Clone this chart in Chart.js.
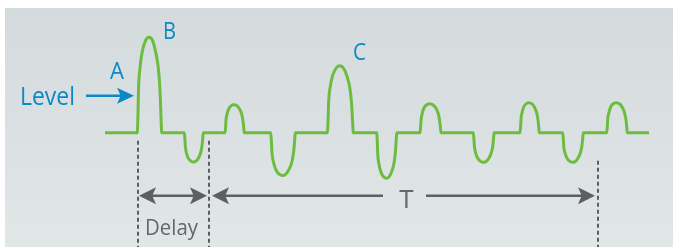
<!DOCTYPE html>
<html>
<head>
<meta charset="utf-8">
<script src="https://cdn.jsdelivr.net/npm/chart.js@4.4.1/dist/chart.umd.min.js"></script>
<style>
    html, body { margin: 0; padding: 0; background: #ffffff; }
    #wrap { position: relative; width: 673px; height: 247px; }
</style>
</head>
<body>
<div id="wrap"><canvas id="chart"></canvas></div>
<script>
// Signal trace: time (x) and level relative to the baseline (y)
const waveTime = [
    105,
    137.3, 138.0, 138.5, 140.0, 142.2, 145.4, 149.0, 152.7, 155.6, 158.3, 160.0, 160.9, 161.7,
    184.3, 184.9, 185.3, 186.4, 188.1, 190.6, 193.5, 196.3, 198.6, 200.6, 202.0, 202.7, 203.3,
    225.0, 225.6, 226.0, 227.1, 228.7, 231.0, 233.8, 237.2, 239.5, 241.6, 242.9, 243.7, 244.3,
    270.7, 271.4, 271.9, 273.4, 275.6, 278.8, 283.0, 286.2, 289.1, 291.9, 293.6, 294.6, 295.3,
    327.3, 328.1, 328.6, 330.2, 332.5, 335.9, 339.5, 343.7, 346.8, 349.7, 351.5, 352.5, 353.3,
    376.7, 377.3, 377.7, 378.9, 380.7, 383.3, 387.0, 389.3, 391.7, 393.9, 395.3, 396.1, 396.7,
    420.0, 420.6, 421.1, 422.3, 423.9, 426.3, 429.8, 433.2, 435.8, 438.1, 439.5, 440.4, 441.0,
    473.3, 473.9, 474.4, 475.6, 477.5, 480.2, 484.0, 486.6, 489.1, 491.3, 492.8, 493.5, 494.1,
    520.0, 520.6, 521.0, 522.1, 523.6, 525.9, 528.7, 532.2, 534.5, 536.6, 537.9, 538.7, 539.3,
    562.7, 563.3, 563.7, 565.0, 566.8, 569.5, 573.4, 575.7, 578.2, 580.4, 581.9, 582.7, 583.3,
    606.7, 607.3, 607.7, 609.0, 610.5, 612.9, 616.2, 619.7, 622.2, 624.4, 625.9, 626.7, 627.3,
    649
];
const waveLevel = [
    0,
    0, 19, 43, 65, 81, 92, 95.5, 92, 81, 65, 43, 19, 0,
    0, -6, -13, -20, -25, -28, -29.3, -28, -25, -20, -13, -6, 0,
    0, 5.6, 12.6, 19, 23.8, 26.9, 28, 26.9, 23.8, 19, 12.6, 5.6, 0,
    0, -8.5, -19.2, -29, -36.3, -41, -42.7, -41, -36.3, -29, -19.2, -8.5, 0,
    0, 13.4, 30.2, 45.6, 57, 64.3, 67, 64.3, 57, 45.6, 30.2, 13.4, 0,
    0, -9.1, -20.5, -30.9, -38.7, -43.7, -45.5, -43.7, -38.7, -30.9, -20.5, -9.1, 0,
    0, 5.8, 13.1, 19.7, 24.7, 27.8, 29, 27.8, 24.7, 19.7, 13.1, 5.8, 0,
    0, -5.9, -13.3, -20, -25, -28.3, -29.5, -28.3, -25, -20, -13.3, -5.9, 0,
    0, 6, 13.5, 20.4, 25.5, 28.8, 30, 28.8, 25.5, 20.4, 13.5, 6, 0,
    0, -5.9, -13.3, -20, -25, -28.3, -29.5, -28.3, -25, -20, -13.3, -5.9, 0,
    0, 6, 13.5, 20.4, 25.5, 28.8, 30, 28.8, 25.5, 20.4, 13.5, 6, 0,
    0
];

// Markers on the time axis: trigger, first response, end of period T
const markerTimes = [137.5, 209, 598];
const pointLabels = ['A', 'B', 'C'];
const spanLabels = ['Delay', 'T'];
const levelLabel = 'Level';

const BLUE = '#0b89c7';
const GREEN = '#6cbc3f';
const GREY = '#5e6060';
const FONT = '"Open Sans", sans-serif';

function arrowHead(ctx, tipX, tipY, dir, len, half) {
    // dir: +1 points right, -1 points left
    ctx.beginPath();
    ctx.moveTo(tipX, tipY);
    ctx.lineTo(tipX - dir * len, tipY - half);
    ctx.lineTo(tipX - dir * len * 0.78, tipY);
    ctx.lineTo(tipX - dir * len, tipY + half);
    ctx.closePath();
    ctx.fill();
}

function hLine(ctx, x1, x2, y, w) {
    ctx.beginPath();
    ctx.lineWidth = w;
    ctx.moveTo(x1, y);
    ctx.lineTo(x2, y);
    ctx.stroke();
}

// draw text starting at x, squeezed to the given width
function fitText(ctx, text, x, y, size, width) {
    ctx.font = size + 'px ' + FONT;
    const w = ctx.measureText(text).width;
    const k = Math.min(1, width / w);
    ctx.save();
    ctx.translate(x, y);
    ctx.scale(k, 1);
    ctx.textAlign = 'left';
    ctx.fillText(text, 0, 0);
    ctx.restore();
}

const backdrop = {
    id: 'backdrop',
    beforeDraw(chart) {
        const ctx = chart.ctx;
        ctx.save();
        ctx.fillStyle = '#ffffff';
        ctx.fillRect(0, 0, chart.width, chart.height);
        const g = ctx.createLinearGradient(0, 8, 0, chart.height);
        g.addColorStop(0, '#d4dbdc');
        g.addColorStop(1, '#e1e6e7');
        ctx.fillStyle = g;
        ctx.fillRect(5, 8, chart.width - 5, chart.height - 8);
        ctx.restore();
    }
};

const annotations = {
    id: 'annotations',
    beforeDatasetsDraw(chart) {
        const ctx = chart.ctx;
        const xs = chart.scales.x, ys = chart.scales.y;
        const px = v => xs.getPixelForValue(v);
        const py = v => ys.getPixelForValue(v);
        const bottom = chart.height;

        ctx.save();
        // dashed marker lines
        ctx.strokeStyle = '#5c5e5e';
        ctx.lineWidth = 2;
        ctx.setLineDash([4, 3]);
        const tops = [-8, -8, -28];
        markerTimes.forEach((t, i) => {
            ctx.beginPath();
            ctx.moveTo(Math.round(px(t)), py(tops[i]));
            ctx.lineTo(Math.round(px(t)), bottom);
            ctx.stroke();
        });
        ctx.setLineDash([]);

        // Delay and T spans
        const ay = py(-63);
        ctx.strokeStyle = GREY;
        ctx.fillStyle = GREY;
        hLine(ctx, px(markerTimes[0]) + 8, px(markerTimes[1]) - 10, ay, 2.5);
        arrowHead(ctx, px(markerTimes[0]) + 1.5, ay, -1, 17, 8.5);
        arrowHead(ctx, px(markerTimes[1]) - 2, ay, 1, 17, 8.5);

        const tMid = 406.5;
        hLine(ctx, px(markerTimes[1]) + 12, 383, ay, 2.5);
        hLine(ctx, 426, px(markerTimes[2]) - 10, ay, 2.5);
        arrowHead(ctx, px(markerTimes[1]) + 3, ay, -1, 17, 8.5);
        arrowHead(ctx, px(markerTimes[2]) - 3, ay, 1, 17, 8.5);

        ctx.fillStyle = '#656767';
        fitText(ctx, spanLabels[0], 145, 235, 21, 53);
        ctx.font = '26px ' + FONT;
        ctx.textAlign = 'center';
        ctx.fillText(spanLabels[1], tMid, 208);

        // Level arrow and labels
        const ly = py(37);
        ctx.strokeStyle = BLUE;
        ctx.fillStyle = BLUE;
        hLine(ctx, 86, px(markerTimes[0]) - 14, ly, 2.5);
        arrowHead(ctx, px(markerTimes[0]) - 3.5, ly, 1, 17, 8);

        fitText(ctx, levelLabel, 20, 105, 26, 55);
        fitText(ctx, pointLabels[0], 110, 78.5, 23, 14);
        fitText(ctx, pointLabels[1], 163, 39, 23, 13);
        fitText(ctx, pointLabels[2], 353, 60, 23, 13);
        ctx.restore();
    }
};

const points = waveTime.map((t, i) => ({ x: t, y: waveLevel[i] }));

new Chart(document.getElementById('chart'), {
    type: 'line',
    data: {
        datasets: [{
            data: points,
            borderColor: GREEN,
            borderWidth: 3,
            pointRadius: 0,
            cubicInterpolationMode: 'monotone',
            fill: false
        }]
    },
    options: {
        responsive: true,
        maintainAspectRatio: false,
        animation: false,
        layout: { padding: 0 },
        plugins: {
            legend: { display: false },
            tooltip: { enabled: false }
        },
        scales: {
            x: { type: 'linear', display: false, min: 0, max: 673 },
            y: { type: 'linear', display: false, min: -114.2, max: 132.8 }
        }
    },
    plugins: [backdrop, annotations]
});
</script>
</body>
</html>
